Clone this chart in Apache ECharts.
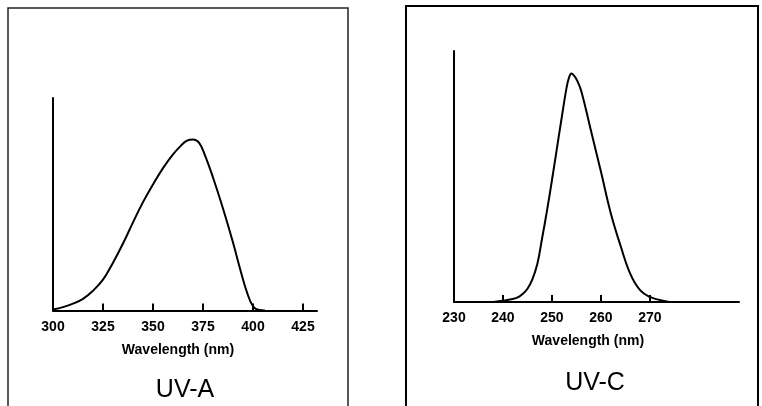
<!DOCTYPE html>
<html>
<head>
<meta charset="utf-8">
<title>UV-A / UV-C</title>
<script src="https://cdn.jsdelivr.net/npm/echarts@6/dist/echarts.min.js"></script>
<style>
  html, body { margin: 0; padding: 0; background: #fff; }
  #chart { width: 762px; height: 406px; }
</style>
</head>
<body>
<div id="chart"></div>
<script>
// UV-A spectrum (wavelength nm, relative intensity)
var uvaWave = [300, 305, 310, 315, 320, 325, 330, 335, 340, 345, 350, 355, 360, 364, 367, 370, 373, 376, 380, 385, 390, 394, 397, 400, 403, 406]
var uvaValue = [0.5, 1.6, 3.2, 5.5, 9.3, 14.5, 22.5, 31.5, 41.5, 51, 59.3, 67, 73.5, 77.6, 79.9, 80.5, 79, 73, 62.6, 48, 32, 18, 8.5, 2, 0.2, 0]
var uvaTicks = [300, 325, 350, 375, 400, 425]

// UV-C spectrum
var uvcWave = [238, 240, 242, 243, 244, 245, 246, 247, 248, 249, 250, 251, 252, 253, 253.5, 254, 254.6, 255.2, 256, 258, 260, 262, 264, 266, 268, 270, 272, 274]
var uvcValue = [0, 0.5, 1.2, 1.8, 3.2, 5.3, 9, 15, 25.5, 36.5, 48.5, 61, 73.5, 85.5, 89.5, 91, 90, 88, 84, 68, 52, 35.5, 22.5, 11.2, 4.7, 2, 0.8, 0]
var uvcTicks = [230, 240, 250, 260, 270]

var titles = ['UV-A', 'UV-C']
var axisName = 'Wavelength (nm)'

function pairs (xs, ys) {
  return xs.map(function (x, i) { return [x, ys[i]] })
}

var font = 'Liberation Sans, Arial, sans-serif'

function xAxisOf (gridIndex, min, max, ticks, shift, margin, gap) {
  return {
    type: 'value',
    gridIndex: gridIndex,
    min: min,
    max: max,
    splitLine: {show: false},
    axisLine: {show: true, lineStyle: {color: '#000', width: 2}},
    axisTick: {show: true, inside: true, length: 7, lineStyle: {color: '#000', width: 2}, customValues: ticks.slice(1)},
    axisLabel: {show: true, margin: margin, color: '#000', fontSize: 14, fontWeight: 'bold', fontFamily: font, customValues: ticks},
    name: axisName,
    nameLocation: 'middle',
    nameGap: gap,
    nameTextStyle: {color: '#000', fontSize: 14, fontWeight: 'bold', fontFamily: font, padding: [0, shift, 0, 0]}
  }
}

function yAxisOf (gridIndex) {
  return {
    type: 'value',
    gridIndex: gridIndex,
    min: 0,
    max: 100,
    splitLine: {show: false},
    axisLine: {show: true, lineStyle: {color: '#000', width: 2}},
    axisTick: {show: false},
    axisLabel: {show: false}
  }
}

function lineOf (idx, name, xs, ys) {
  return {
    name: name,
    type: 'line',
    xAxisIndex: idx,
    yAxisIndex: idx,
    smooth: 0.4,
    showSymbol: false,
    lineStyle: {color: '#000', width: 2},
    data: pairs(xs, ys)
  }
}

var myChart = echarts.init(document.getElementById('chart'))
myChart.setOption({
  animation: false,
  backgroundColor: '#fff',
  // panel frames
  graphic: [
    {type: 'rect', shape: {x: 8, y: 8, width: 340, height: 420}, style: {fill: 'none', stroke: '#222', lineWidth: 1.5}},
    {type: 'rect', shape: {x: 406, y: 6, width: 352, height: 420}, style: {fill: 'none', stroke: '#000', lineWidth: 2}}
  ],
  title: [
    {text: titles[0], left: 185, top: 378, textAlign: 'center', padding: 0, textStyle: {color: '#000', fontSize: 25, fontWeight: 'normal', fontFamily: font}},
    {text: titles[1], left: 595, top: 371, textAlign: 'center', padding: 0, textStyle: {color: '#000', fontSize: 25, fontWeight: 'normal', fontFamily: font}}
  ],
  grid: [
    {left: 53, top: 98, width: 264, height: 212.5},
    {left: 454, top: 51, width: 285, height: 251}
  ],
  xAxis: [
    xAxisOf(0, 300, 432, uvaTicks, 14, 10, 33),
    xAxisOf(1, 230, 288.2, uvcTicks, 17, 9, 32)
  ],
  yAxis: [yAxisOf(0), yAxisOf(1)],
  series: [
    lineOf(0, 'UV-A', uvaWave, uvaValue),
    lineOf(1, 'UV-C', uvcWave, uvcValue)
  ]
})
</script>
</body>
</html>
